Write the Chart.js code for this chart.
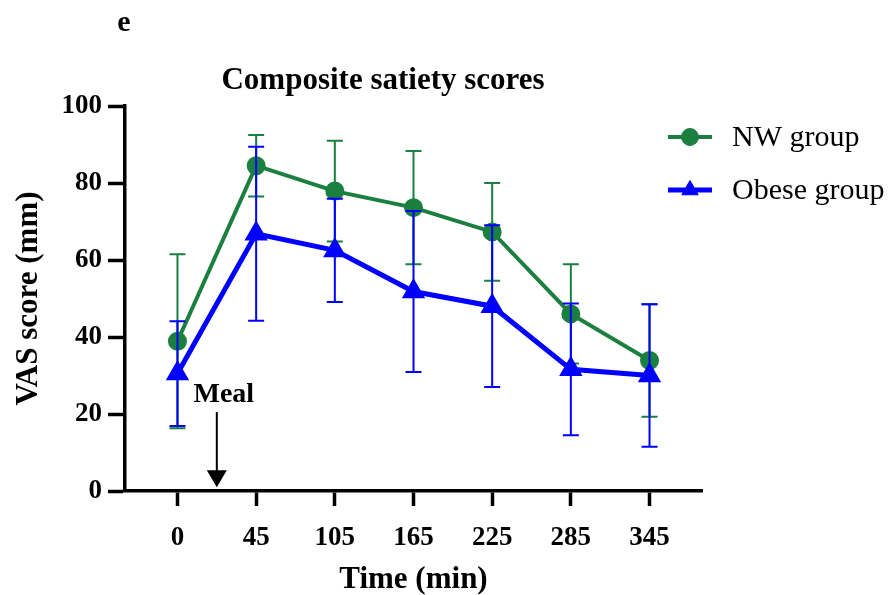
<!DOCTYPE html>
<html>
<head>
<meta charset="utf-8">
<script src="https://cdn.jsdelivr.net/npm/chart.js@4.4.1/dist/chart.umd.min.js"></script>
<style>
  html, body { margin: 0; padding: 0; background: #fff; }
  #wrap { width: 891px; height: 595px; }
</style>
</head>
<body>
<div id="wrap"><canvas id="c" width="891" height="595"></canvas></div>
<script>
// Sampling times (min) shown as evenly spaced categories
const timeLabels = ['0', '45', '105', '165', '225', '285', '345'];

// Composite satiety VAS scores (mm), mean and SD
const nwMean    = [38.9, 84.5, 77.9, 73.6, 67.3, 46.0, 33.9];
const nwSD      = [22.6,  8.0, 13.1, 14.7, 12.7, 12.9, 14.6];
const obeseMean = [30.5, 66.8, 62.5, 51.8, 48.0, 31.6, 30.0];
const obeseSD   = [13.6, 22.6, 13.4, 20.9, 21.0, 17.1, 18.5];

const yTicks = [0, 20, 40, 60, 80, 100];

const GREEN = '#1A7F3F';
const BLUE = '#0000FF';
const SERIF = "'Liberation Serif', 'Times New Roman', serif";

const toPoints = (arr) => arr.map((v, i) => ({ x: i, y: v }));

// Error bars drawn right after their own dataset
const errorBars = {
  id: 'errorBars',
  afterDatasetDraw(chart, args) {
    const ds = chart.data.datasets[args.index];
    if (!ds.sd) return;
    const { ctx, scales: { x, y } } = chart;
    ctx.save();
    ctx.strokeStyle = ds.borderColor;
    ctx.lineWidth = 2;
    ds.data.forEach((p, i) => {
      const px = x.getPixelForValue(p.x);
      const top = y.getPixelForValue(p.y + ds.sd[i]);
      const bot = y.getPixelForValue(p.y - ds.sd[i]);
      ctx.beginPath();
      ctx.moveTo(px, top); ctx.lineTo(px, bot);
      ctx.moveTo(px - 8, top); ctx.lineTo(px + 8, top);
      ctx.moveTo(px - 8, bot); ctx.lineTo(px + 8, bot);
      ctx.stroke();
    });
    ctx.restore();
  }
};

// Panel letter, title, meal marker and legend
const decorations = {
  id: 'decorations',
  afterDraw(chart) {
    const { ctx, scales: { x, y } } = chart;
    ctx.save();
    ctx.fillStyle = '#000';
    ctx.textBaseline = 'alphabetic';

    ctx.font = `bold 30px ${SERIF}`;
    ctx.textAlign = 'center';
    ctx.fillText('e', 124, 31);

    ctx.font = `bold 31px ${SERIF}`;
    ctx.fillText('Composite satiety scores', 383, 89);

    // Meal arrow between the 0 and 45 min samples
    const mx = x.getPixelForValue(0.5);
    ctx.font = `bold 28px ${SERIF}`;
    ctx.fillText('Meal', mx + 7, 402);
    const yTop = y.getPixelForValue(20.5);
    const yTip = y.getPixelForValue(1);
    ctx.strokeStyle = '#000';
    ctx.lineWidth = 2;
    ctx.beginPath();
    ctx.moveTo(mx, yTop); ctx.lineTo(mx, yTip - 14);
    ctx.stroke();
    ctx.beginPath();
    ctx.moveTo(mx - 10, yTip - 17); ctx.lineTo(mx + 10, yTip - 17); ctx.lineTo(mx, yTip);
    ctx.closePath();
    ctx.fill();

    // Legend
    const items = chart.data.datasets;
    const rows = [137, 190];
    items.forEach((ds, i) => {
      const ly = rows[i];
      ctx.strokeStyle = ds.borderColor;
      ctx.lineWidth = ds.borderWidth;
      ctx.beginPath();
      ctx.moveTo(668, ly); ctx.lineTo(712, ly);
      ctx.stroke();
      ctx.fillStyle = ds.backgroundColor;
      ctx.strokeStyle = ds.backgroundColor;
      ctx.lineWidth = 1;
      Chart.helpers.drawPoint(ctx, {
        pointStyle: ds.pointStyle, radius: ds.pointRadius + 1, borderWidth: 1, rotation: 0
      }, 690, ly);
      ctx.fillStyle = '#000';
      ctx.font = `30px ${SERIF}`;
      ctx.textAlign = 'left';
      ctx.textBaseline = 'middle';
      ctx.fillText(ds.label, 732, ly + 1);
    });
    ctx.restore();
  }
};

new Chart(document.getElementById('c'), {
  type: 'line',
  data: {
    datasets: [
      {
        label: 'NW group',
        data: toPoints(nwMean),
        sd: nwSD,
        borderColor: GREEN,
        backgroundColor: GREEN,
        borderWidth: 4,
        pointStyle: 'circle',
        pointRadius: 7.5,
        pointHoverRadius: 7.5,
        pointBackgroundColor: GREEN,
        pointBorderColor: GREEN,
        order: 2
      },
      {
        label: 'Obese group',
        data: toPoints(obeseMean),
        sd: obeseSD,
        borderColor: BLUE,
        backgroundColor: BLUE,
        borderWidth: 5,
        pointStyle: 'triangle',
        pointRadius: 8.5,
        pointHoverRadius: 8.5,
        pointBackgroundColor: BLUE,
        pointBorderColor: BLUE,
        order: 1
      }
    ]
  },
  options: {
    responsive: false,
    animation: false,
    devicePixelRatio: 1,
    layout: { padding: { top: 106, right: 189, left: 0, bottom: 0 } },
    plugins: { legend: { display: false }, title: { display: false }, tooltip: { enabled: false } },
    scales: {
      x: {
        type: 'linear',
        min: -0.667,
        max: 6.667,
        afterBuildTicks(scale) { scale.ticks = timeLabels.map((_, i) => ({ value: i })); },
        afterFit(scale) { scale.height = 104; },
        grid: { drawOnChartArea: false, drawTicks: true, tickLength: 15, tickWidth: 3.5, tickColor: '#000' },
        border: { display: true, color: '#000', width: 3.5 },
        ticks: {
          color: '#000',
          font: { family: SERIF, size: 27, weight: 'bold' },
          padding: 16,
          maxRotation: 0,
          autoSkip: false,
          callback: (v) => timeLabels[v] ?? ''
        },
        title: {
          display: true,
          text: 'Time (min)',
          color: '#000',
          font: { family: SERIF, size: 31, weight: 'bold' },
          padding: { top: 0, bottom: -4 }
        }
      },
      y: {
        min: 0,
        max: 100,
        afterBuildTicks(scale) { scale.ticks = yTicks.map(v => ({ value: v })); },
        afterFit(scale) { scale.width = 125; },
        grid: { drawOnChartArea: false, drawTicks: true, tickLength: 17, tickWidth: 3.5, tickColor: '#000' },
        border: { display: true, color: '#000', width: 3.5 },
        ticks: {
          color: '#000',
          font: { family: SERIF, size: 27, weight: 'bold' },
          padding: 6
        },
        title: {
          display: true,
          text: 'VAS score (mm)',
          color: '#000',
          font: { family: SERIF, size: 31, weight: 'bold' },
          padding: { top: 10, bottom: 0 }
        }
      }
    }
  },
  plugins: [errorBars, decorations]
});
</script>
</body>
</html>
